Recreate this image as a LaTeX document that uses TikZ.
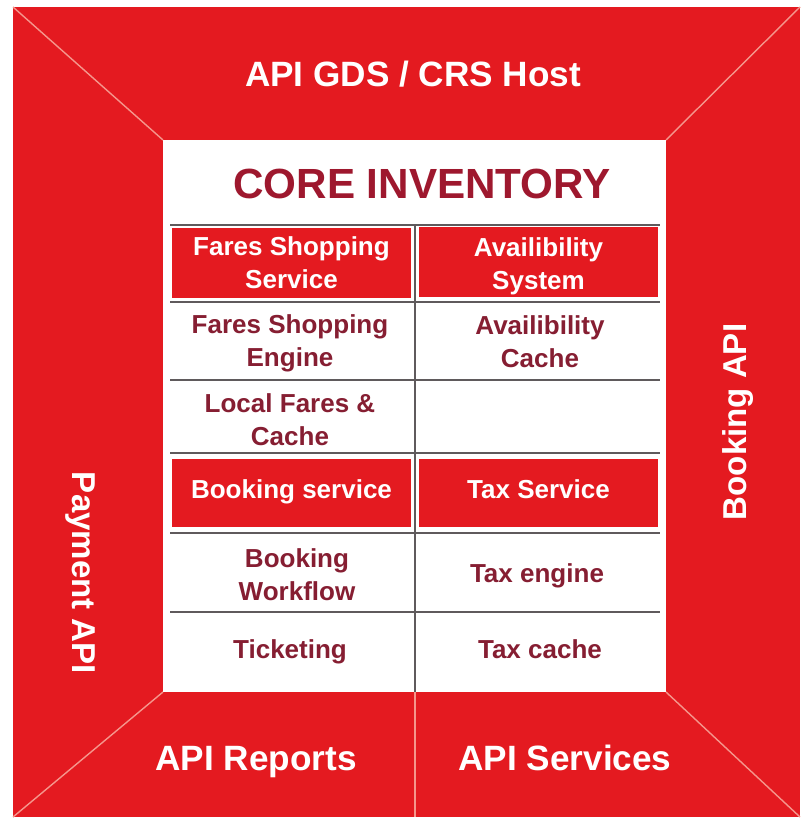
\documentclass[tikz,border=0pt]{standalone}
\usepackage{fontspec}
\setmainfont{Liberation Sans}
\usepackage{tikz}
\usetikzlibrary{positioning}
\definecolor{apired}{RGB}{228,26,32}
\definecolor{coretxt}{RGB}{158,24,46}
\definecolor{celltxt}{RGB}{134,30,50}
\definecolor{seamcol}{RGB}{245,150,140}
\definecolor{gridcol}{RGB}{95,90,92}
\newcommand{\cellfont}{\bfseries\fontsize{18.5}{23.5}\selectfont}
\newcommand{\sidefont}{\bfseries\fontsize{25}{29}\selectfont}
\newcommand{\edgefont}{\bfseries\fontsize{23.5}{28}\selectfont}
\newcommand{\corefont}{\bfseries\fontsize{30}{34}\selectfont}
\tikzstyle{redcell} = [rectangle, fill=apired, minimum width=5.975cm, minimum height=1.75cm, inner sep=0pt, align=center, text=white, font=\cellfont]
\tikzstyle{whitecell} = [align=center, text=celltxt, font=\cellfont]
\tikzstyle{sidetext} = [text=white, font=\sidefont]
\tikzstyle{seam} = [seamcol, line width=1pt]
\tikzstyle{gridline} = [gridcol, line width=0.8pt]

\begin{document}
\begin{tikzpicture}[x=0.025cm, y=-0.025cm]
  \useasboundingbox (0,0) rectangle (808,822);

  % Outer frame and core panel
  \coordinate (otl) at (13,7);
  \coordinate (otr) at (800,7);
  \coordinate (obl) at (13,817);
  \coordinate (obr) at (800,817);
  \coordinate (itl) at (163,140);
  \coordinate (itr) at (666,140);
  \coordinate (ibl) at (163,692);
  \coordinate (ibr) at (666,692);
  \fill[apired] (otl) rectangle (obr);
  \fill[white] (itl) rectangle (ibr);
  \foreach \o/\i in {otl/itl, otr/itr, obl/ibl, obr/ibr}
    \draw[seam] (\o) -- (\i);
  \coordinate (bmid) at (415,692);
  \coordinate (bbot) at (415,817);
  \draw[seam] (bmid) -- (bbot);

  % Surrounding APIs
  \node[sidetext, anchor=base] (gds) at (413,86) {API GDS / CRS Host};
  \node[sidetext, font=\edgefont, rotate=-90] (payment) at (80,573) {Payment API};
  \node[sidetext, font=\edgefont, rotate=90] (booking) at (738,422) {Booking API};
  \node[sidetext, anchor=base] (reports) at (256,770) {API Reports};
  \node[sidetext, anchor=base] (services) at (565,770) {API Services};

  % Core inventory table
  \node[text=coretxt, font=\corefont, anchor=base] (core) at (422,198) {CORE INVENTORY};
  \foreach \y in {225,302,380,453,533,612}
    \draw[gridline] (170,\y) -- (660,\y);
  \coordinate (vtop) at (415,225);
  \coordinate (vbot) at (415,692);
  \draw[gridline] (vtop) -- (vbot);

  \node[redcell] (fss) at (291.5,263) {Fares Shopping\\Service};
  \node[redcell] (avs) at (538.5,262) {};
  \node[whitecell, text=white] (avst) at (538.5,266) {Availibility\\System};
  \node[whitecell] (fse) at (290,343) {Fares Shopping\\Engine};
  \node[whitecell] (avc) at (540,342) {Availibility\\Cache};
  \node[whitecell] (lfc) at (290,420) {Local Fares \&\\Cache};
  \node[redcell, minimum height=1.7cm] (bks) at (291.5,493) {};
  \node[redcell, minimum height=1.7cm] (txs) at (538.5,493) {};
  \node[whitecell, text=white, anchor=base] (bkst) at (291.5,498) {Booking service};
  \node[whitecell, text=white, anchor=base] (txst) at (538.5,498) {Tax Service};
  \node[whitecell] (bkw) at (297,575) {Booking\\Workflow};
  \node[whitecell, anchor=base] (txe) at (537,582) {Tax engine};
  \node[whitecell, anchor=base] (tkt) at (290,658) {Ticketing};
  \node[whitecell, anchor=base] (txc) at (540,658) {Tax cache};
\end{tikzpicture}
\end{document}
